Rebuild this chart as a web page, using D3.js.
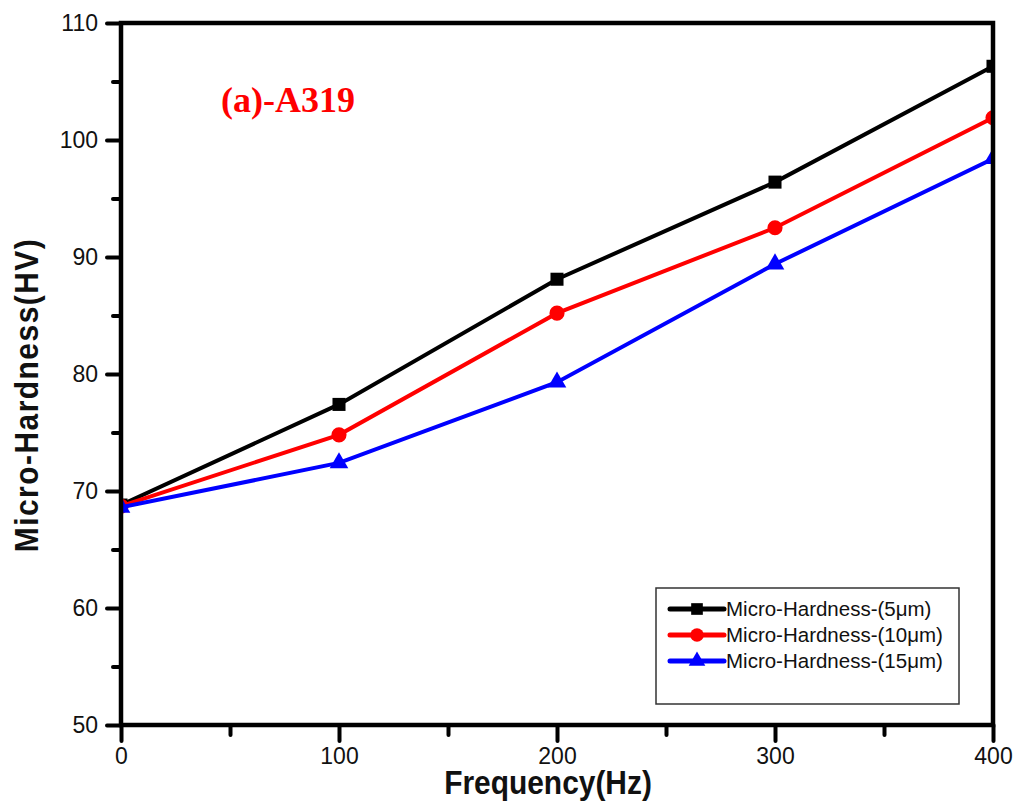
<!DOCTYPE html>
<html>
<head>
<meta charset="utf-8">
<script src="https://cdn.jsdelivr.net/npm/d3@7"></script>
<style>
  body { margin: 0; background: #fff; }
</style>
</head>
<body>
<div id="chart"></div>
<script>
// data
const frequency = [0, 100, 200, 300, 400];
const hard5 = [68.8, 77.4, 88.1, 96.4, 106.3];
const hard10 = [68.7, 74.8, 85.2, 92.5, 101.9];
const hard15 = [68.6, 72.4, 79.3, 89.4, 98.4];
const seriesNames = ["Micro-Hardness-(5μm)", "Micro-Hardness-(10μm)", "Micro-Hardness-(15μm)"];
const xTicks = [0, 100, 200, 300, 400];
const yTicks = [50, 60, 70, 80, 90, 100, 110];

const W = 1018, H = 803;
const margin = { top: 23, right: 25, bottom: 78, left: 121 };
const width = W - margin.left - margin.right;
const height = H - margin.top - margin.bottom;
const sans = "'Liberation Sans', Arial, sans-serif";

const svg = d3.select("#chart").append("svg")
  .attr("width", W).attr("height", H)
  .style("font-family", sans);

const g = svg.append("g")
  .attr("transform", `translate(${margin.left},${margin.top})`);

const x = d3.scaleLinear().domain([0, 400]).range([0, width]);
const y = d3.scaleLinear().domain([50, 110]).range([height, 0]);

g.append("defs").append("clipPath").attr("id", "clip")
  .append("rect").attr("width", width).attr("height", height);

const series = [
  { name: seriesNames[0], values: hard5, color: "#000000", symbol: d3.symbolSquare, size: 170 },
  { name: seriesNames[1], values: hard10, color: "#ff0000", symbol: d3.symbolCircle, size: 180 },
  { name: seriesNames[2], values: hard15, color: "#0000ff", symbol: d3.symbolTriangle, size: 150 }
];

const line = d3.line().x((d, i) => x(frequency[i])).y(d => y(d));

const plot = g.append("g").attr("clip-path", "url(#clip)");

series.forEach(s => {
  plot.append("path")
    .datum(s.values)
    .attr("fill", "none")
    .attr("stroke", s.color)
    .attr("stroke-width", 4)
    .attr("d", line);

  plot.selectAll(null)
    .data(s.values)
    .enter()
    .append("path")
    .attr("d", d3.symbol().type(s.symbol).size(s.size))
    .attr("transform", (d, i) => `translate(${x(frequency[i])},${y(d)})`)
    .attr("fill", s.color);
});

// axes
const xAxis = g.append("g").attr("transform", `translate(0,${height})`)
  .call(d3.axisBottom(x).tickValues(xTicks).tickSize(16).tickPadding(7));
const xMinor = g.append("g").attr("transform", `translate(0,${height})`)
  .call(d3.axisBottom(x).tickValues([50, 150, 250, 350]).tickSize(10).tickFormat(""));
const yAxis = g.append("g")
  .call(d3.axisLeft(y).tickValues(yTicks).tickSize(14).tickPadding(9));
const yMinor = g.append("g")
  .call(d3.axisLeft(y).tickValues([55, 65, 75, 85, 95, 105]).tickSize(8).tickFormat(""));

[xAxis, xMinor, yAxis, yMinor].forEach(a => {
  a.attr("font-family", sans).attr("font-size", 23);
  a.select(".domain").remove();
  a.selectAll("line").attr("stroke", "#000").attr("stroke-width", 4).attr("stroke-linecap", "round");
  a.selectAll("text").attr("fill", "#111");
});

// frame
g.append("rect")
  .attr("width", width).attr("height", height)
  .attr("fill", "none").attr("stroke", "#000").attr("stroke-width", 4.5);

// axis titles (narrow, tall lettering like the original)
svg.append("text")
  .attr("transform", "translate(548,794) scale(0.88,1)")
  .attr("text-anchor", "middle")
  .attr("font-size", 34).attr("font-weight", "bold").attr("fill", "#111")
  .text("Frequency(Hz)");

svg.append("text")
  .attr("transform", `translate(38,395) rotate(-90) scale(0.88,1)`)
  .attr("text-anchor", "middle")
  .attr("font-size", 34).attr("font-weight", "bold").attr("fill", "#111")
  .attr("letter-spacing", 1.7)
  .text("Micro-Hardness(HV)");

// panel label
svg.append("text")
  .attr("x", 221).attr("y", 112)
  .style("font-family", "'Liberation Serif', 'Times New Roman', serif")
  .attr("font-size", 36).attr("font-weight", "bold").attr("fill", "#ff0000")
  .text("(a)-A319");

// legend
const legend = svg.append("g").attr("transform", "translate(656,588)");
legend.append("rect")
  .attr("width", 303).attr("height", 116)
  .attr("fill", "#fff").attr("stroke", "#333").attr("stroke-width", 1.5);

series.forEach((s, i) => {
  const row = legend.append("g").attr("transform", `translate(0,${21 + i * 26})`);
  row.append("line")
    .attr("x1", 14).attr("x2", 68)
    .attr("stroke", s.color).attr("stroke-width", 5).attr("stroke-linecap", "round");
  row.append("path")
    .attr("d", d3.symbol().type(s.symbol).size(s.size * 0.8))
    .attr("transform", "translate(41,0)")
    .attr("fill", s.color);
  row.append("text")
    .attr("x", 70).attr("y", 7)
    .attr("font-size", 20.5).attr("fill", "#111")
    .text(s.name);
});
</script>
</body>
</html>
